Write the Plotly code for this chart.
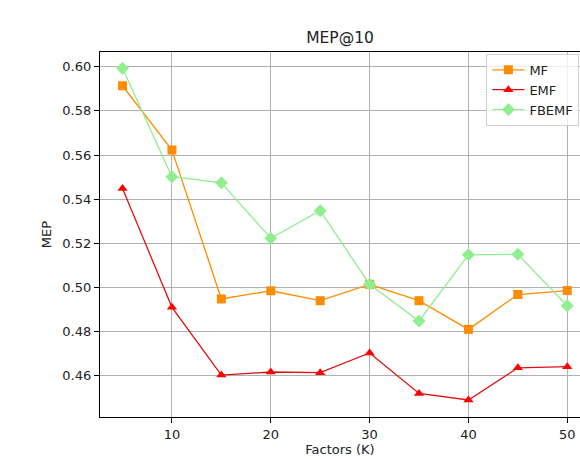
import plotly.graph_objects as go

factors = [5, 10, 15, 20, 25, 30, 35, 40, 45, 50]
mf = [0.5914, 0.5623, 0.4948, 0.4985, 0.4940, 0.5014, 0.4940, 0.4810, 0.4968, 0.4986]
emf = [0.5449, 0.4910, 0.4603, 0.4617, 0.4614, 0.4703, 0.4520, 0.4490, 0.4636, 0.4641]
fbemf = [0.5993, 0.5502, 0.5474, 0.5223, 0.5348, 0.5014, 0.4848, 0.5148, 0.5150, 0.4917]
y_ticks = [0.46, 0.48, 0.50, 0.52, 0.54, 0.56, 0.58, 0.60]
x_ticks = [10, 20, 30, 40, 50]

FONT = "DejaVu Sans"

fig = go.Figure()
fig.add_trace(go.Scatter(x=factors, y=mf, name="MF", mode="lines+markers",
                         line=dict(color="darkorange", width=1.3),
                         marker=dict(symbol="square", size=9, color="darkorange")))
fig.add_trace(go.Scatter(x=factors, y=emf, name="EMF", mode="lines+markers",
                         line=dict(color="#e01010", width=1.3),
                         marker=dict(symbol="triangle-up", size=9, color="red")))
fig.add_trace(go.Scatter(x=factors, y=fbemf, name="FBEMF", mode="lines+markers",
                         line=dict(color="lightgreen", width=1.3),
                         marker=dict(symbol="diamond", size=10, color="lightgreen")))

fig.update_layout(
    width=580, height=459,
    margin=dict(l=100, r=0, t=52, b=42),
    paper_bgcolor="white", plot_bgcolor="white",
    font=dict(family=FONT, size=13, color="#222"),
    title=dict(text="MEP@10", x=0.5, xanchor="center", xref="paper",
               y=1 - 38 / 459, yanchor="middle", font=dict(size=15.5, color="#222")),
    showlegend=True,
    legend=dict(x=0.805, y=0.995, xanchor="left", yanchor="top",
                bgcolor="rgba(255,255,255,0.8)", bordercolor="#d0d0d0", borderwidth=1,
                font=dict(size=13), tracegroupgap=0, itemwidth=32),
)
fig.update_xaxes(range=[2.72, 51.29], tickvals=x_ticks, showgrid=True, gridcolor="#b0b0b0",
                 gridwidth=1, showline=True, linecolor="black", linewidth=1.2, mirror=True,
                 ticks="outside", ticklen=5, tickcolor="black", zeroline=False,
                 title=dict(text="Factors (K)", standoff=4, font=dict(size=13)))
fig.update_yaxes(range=[0.4413, 0.6067], tickvals=y_ticks, tickformat=".2f", showgrid=True,
                 gridcolor="#b0b0b0", gridwidth=1, showline=True, linecolor="black",
                 linewidth=1.2, mirror=False, ticks="outside", ticklen=5, tickcolor="black",
                 zeroline=False, title=dict(text="MEP", standoff=7, font=dict(size=13)))

fig.write_html("out.html", config={"displayModeBar": False},
               post_script="document.body.style.margin='0';document.body.style.overflow='hidden';")
